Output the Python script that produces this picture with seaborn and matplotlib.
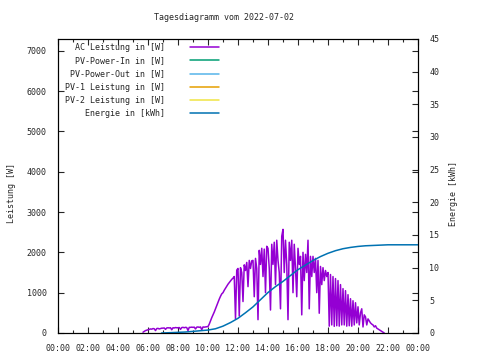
import numpy as np
import pandas as pd
import matplotlib
matplotlib.use("Agg")
import matplotlib.pyplot as plt
from matplotlib.ticker import FixedLocator, MultipleLocator
import seaborn as sns

# AC-Leistung [W], 5-Minuten-Werte ab 05:40
ac_start_h = 5 + 40 / 60
ac_step_h = 5 / 60
ac_leistung = [
    20, 40, 60, 70,
    80, 90, 100, 95, 110, 105, 60, 110, 115, 100, 110, 120,
    120, 125, 90, 125, 130, 125, 130, 80, 130, 125, 135, 130,
    130, 135, 90, 135, 140, 130, 140, 135, 60, 140, 140, 145,
    140, 145, 100, 145, 150, 140, 150, 80, 150, 145, 150, 155,
    160, 220, 300, 380, 450, 520, 600, 680, 760, 840, 910, 970,
    1000, 1060, 1110, 1160, 1210, 1250, 1290, 1330, 1360, 1400, 350, 1560,
    1600, 420, 1620, 1500, 780, 1690, 1550, 1750, 1150, 1800, 1600, 1790,
    1800, 900, 1850, 1600, 330, 2050, 1700, 2100, 1400, 2080, 1000, 2150,
    2100, 1600, 570, 2200, 1700, 2250, 1200, 2300, 1800, 1500, 600, 2400,
    2570, 1500, 2300, 1700, 330, 2250, 1800, 2300, 1000, 2200, 1600, 900,
    2100, 1700, 1900, 450, 2000, 1300, 1950, 1500, 2300, 600, 1900, 1400,
    1900, 1500, 1850, 1000, 1800, 490, 1650, 1200, 1620, 1300, 1550, 1400,
    1500, 170, 1450, 200, 1400, 165, 1350, 180, 1300, 170, 1200, 200,
    1100, 200, 1050, 170, 950, 180, 850, 170, 800, 200, 750, 250,
    650, 200, 500, 600, 150, 450, 400, 200, 350, 300, 250, 220,
    200, 150, 180, 120, 100, 80, 60, 40, 20, 0,
]

# Energie [kWh]
energie_zeit = [6.9, 7.5, 8.0, 8.5, 9.0, 9.5, 10.0, 10.5, 11.0, 11.5, 12.0, 12.5,
                13.0, 13.5, 14.0, 14.5, 15.0, 15.5, 16.0, 16.5, 17.0, 17.5, 18.0,
                18.5, 19.0, 19.5, 20.0, 20.5, 21.0, 21.5, 22.0, 24.0]
energie = [0.0, 0.05, 0.1, 0.15, 0.25, 0.35, 0.45, 0.65, 1.05, 1.6, 2.25, 3.1,
           4.0, 5.1, 6.2, 7.1, 7.9, 8.8, 9.7, 10.4, 11.1, 11.7, 12.2,
           12.6, 12.9, 13.1, 13.25, 13.35, 13.4, 13.45, 13.5, 13.5]

x_ticks = list(range(0, 25, 2))
x_labels = ["00:00", "02:00", "04:00", "06:00", "08:00", "10:00", "12:00",
            "14:00", "16:00", "18:00", "20:00", "22:00", "00:00"]

legende = [
    ("AC Leistung in [W]", "#9400d3"),
    ("PV-Power-In in [W]", "#009e73"),
    ("PV-Power-Out in [W]", "#56b4e9"),
    ("PV-1 Leistung in [W]", "#e69f00"),
    ("PV-2 Leistung in [W]", "#f0e442"),
    ("Energie in [kWh]", "#0072b2"),
]

sns.set_style("ticks")
plt.rcParams["font.family"] = ["DejaVu Sans Mono"]
plt.rcParams["font.size"] = 6

df_ac = pd.DataFrame({
    "zeit": ac_start_h + np.arange(len(ac_leistung)) * ac_step_h,
    "leistung": ac_leistung,
})
df_en = pd.DataFrame({"zeit": energie_zeit, "energie": energie})

fig = plt.figure(figsize=(4.8, 3.6), dpi=100)
ax = fig.add_axes([58 / 480, 1 - 333 / 360, 360 / 480, 294 / 360])
ax2 = ax.twinx()

sns.lineplot(data=df_ac, x="zeit", y="leistung", ax=ax, color="#9400d3",
             linewidth=1.1, estimator=None, sort=False)
sns.lineplot(data=df_en, x="zeit", y="energie", ax=ax2, color="#0072b2",
             linewidth=1.1, estimator=None, sort=False)

ax.set_xlim(0, 24)
ax.set_ylim(0, 7290)
ax2.set_ylim(0, 45)

ax.xaxis.set_major_locator(FixedLocator(x_ticks))
ax.set_xticklabels(x_labels)
ax.xaxis.set_minor_locator(MultipleLocator(1))
ax.yaxis.set_major_locator(MultipleLocator(1000))
ax2.yaxis.set_major_locator(MultipleLocator(5))

ax.tick_params(axis="both", which="major", direction="in", length=4, width=0.8,
               top=True, right=True, pad=8, labelsize=6)
ax.tick_params(axis="x", which="minor", direction="in", length=2.5, width=0.8,
               top=True)
ax2.tick_params(axis="y", direction="in", length=4, width=0.8, pad=8, labelsize=6)

for a in (ax, ax2):
    for s in a.spines.values():
        s.set_visible(True)
        s.set_linewidth(0.8)
        s.set_color("black")

ax.set_xlabel("")
ax.set_ylabel("Leistung [W]", fontsize=6)
ax2.set_ylabel("Energie [kWh]", fontsize=6, rotation=90)
ax.yaxis.set_label_coords(-(58 - 16) / 360, 0.476)
ax2.yaxis.set_label_coords((449 - 58) / 360, 0.476)

fig.text(223.5 / 480, 1 - 18 / 360, "Tagesdiagramm vom 2022-07-02",
         ha="center", va="center", fontsize=6)

handles = [plt.Line2D([], [], color=c, linewidth=1.1, label=l) for l, c in legende]
ax.legend(handles=handles, loc="upper left", bbox_to_anchor=(0.02, 0.986),
          markerfirst=False, frameon=False, fontsize=6, handlelength=3.4,
          handletextpad=3.0, labelspacing=0.5, borderpad=0, borderaxespad=0)

fig.savefig("out.png", dpi=100)
